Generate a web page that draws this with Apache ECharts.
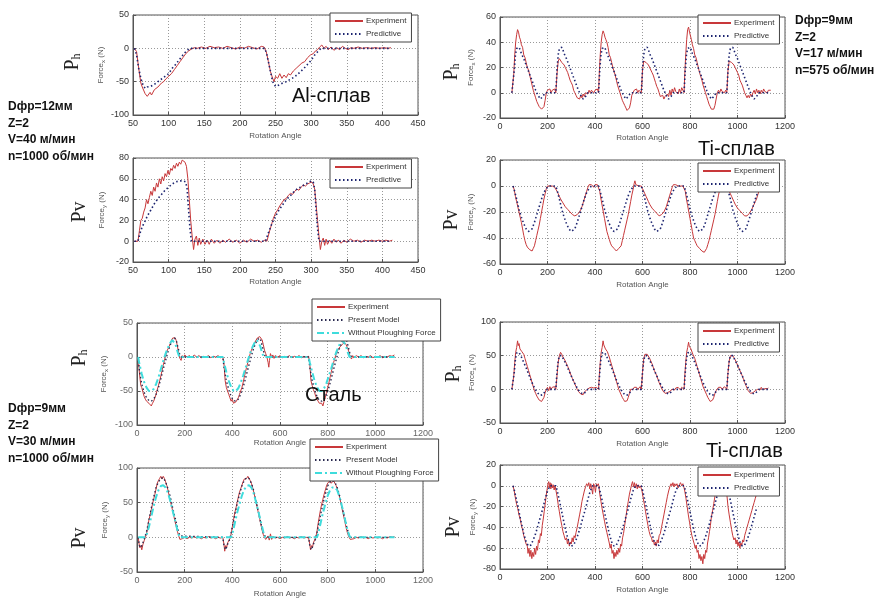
<!DOCTYPE html>
<html><head><meta charset="utf-8">
<script src="https://cdn.jsdelivr.net/npm/echarts@6/dist/echarts.min.js"></script>
<style>html,body{margin:0;padding:0;background:#fff}#c{width:876px;height:601px}</style>
</head><body><div id="c"></div>
<script>
// ---------- DATA ----------
const xTicksAl = [50, 450, 50];
const xTicksBig = [0, 1200, 200];
const yTicks = [[-100,50,50],[-20,80,20],[-20,60,20],[-60,20,20],[-100,50,50],[-50,100,50],[-50,100,50],[-80,20,20]];
const seriesNames = ['Experiment','Predictive','Present Model','Without Ploughing Force'];
const xName = 'Rotation Angle';

const alPhExp = [[52,0],[55,-5],[58,-30],[61,-52],[63,-58],[65,-55],[67,-68],[70,-72],[72,-70],[74,-66],[76,-70],[78,-68],[80,-62],[82,-64],[85,-58],[87,-60],[90,-52],[93,-50],[96,-46],[100,-42],[104,-38],[108,-32],[112,-26],[116,-20],[120,-14],[124,-8],[128,-4],[132,-1],[136,1],[140,0],[146,2],[152,0],[158,3],[164,1],[170,2],[176,0],[182,3],[188,1],[194,-1],[200,2],[206,0],[212,3],[218,1],[224,-1],[230,3],[234,2],[237,-5],[240,-20],[243,-35],[246,-45],[248,-50],[250,-42],[253,-45],[256,-38],[259,-45],[262,-40],[265,-44],[268,-38],[271,-40],[275,-34],[279,-30],[283,-26],[287,-22],[291,-20],[295,-14],[299,-10],[303,-8],[306,-4],[309,-2],[312,2],[315,5],[318,0],[321,3],[324,-2],[328,2],[332,-3],[336,1],[340,-2],[344,3],[348,0],[352,-2],[356,1],[360,0],[366,2],[372,0],[378,1],[384,0],[390,1],[396,0],[402,1],[408,0],[412,1]];
const alPhPred = [[52,0],[55,-10],[58,-30],[61,-45],[64,-55],[67,-60],[70,-58],[75,-57],[80,-54],[85,-50],[90,-46],[95,-42],[100,-38],[105,-30],[110,-24],[115,-17],[120,-10],[125,-4],[130,0],[235,0],[238,-10],[242,-30],[246,-50],[250,-57],[255,-55],[260,-52],[265,-50],[270,-47],[275,-44],[280,-40],[285,-35],[290,-30],[295,-24],[300,-18],[305,-10],[310,-4],[314,0],[410,0]];

const alPvExp = [[52,0],[57,0],[59,10],[61,20],[63,22],[65,28],[67,32],[69,40],[71,36],[73,42],[75,48],[77,44],[79,52],[81,48],[83,56],[85,52],[87,60],[89,55],[91,62],[93,58],[95,65],[97,62],[99,68],[101,64],[103,70],[105,68],[107,73],[109,70],[111,75],[113,72],[115,76],[117,74],[119,78],[121,77],[123,76],[125,72],[127,60],[129,40],[131,20],[133,5],[135,-8],[137,2],[139,5],[141,-4],[143,3],[145,-3],[148,2],[151,-3],[154,1],[157,-3],[160,2],[164,-2],[168,1],[172,-2],[176,1],[180,-1],[185,2],[190,-1],[195,1],[200,-2],[205,1],[210,-1],[215,2],[220,0],[225,1],[230,-1],[235,1],[238,0],[241,8],[244,15],[247,22],[250,27],[253,30],[256,34],[259,37],[262,40],[265,41],[268,44],[271,46],[274,45],[277,48],[280,50],[283,49],[286,52],[289,54],[292,53],[295,55],[298,56],[301,57],[303,55],[305,50],[307,35],[309,20],[311,5],[313,-8],[315,0],[317,3],[319,-4],[321,2],[323,-3],[326,1],[329,-2],[332,2],[335,-1],[338,1],[342,-2],[346,1],[350,-1],[355,2],[360,0],[365,1],[370,-1],[375,1],[380,0],[385,1],[390,0],[395,1],[400,0],[405,1],[410,0],[414,1]];
const alPvPred = [[52,0],[57,0],[60,8],[63,14],[66,18],[70,24],[75,30],[80,36],[85,41],[90,45],[95,49],[100,52],[105,55],[110,57],[115,58],[120,58],[124,57],[126,50],[128,30],[130,12],[132,0],[236,0],[240,8],[245,17],[250,24],[255,30],[260,35],[265,40],[270,43],[275,47],[280,50],[285,52],[290,54],[295,56],[300,58],[303,57],[305,50],[307,30],[309,12],[311,0],[410,0]];

const tiPh1Exp = [[50,0],[55,0],[58,15],[62,30],[66,40],[70,46],[74,50],[78,48],[82,44],[86,42],[90,38],[95,36],[100,30],[105,28],[110,24],[115,20],[120,18],[125,14],[130,10],[135,6],[140,2],[145,-1],[150,-4],[155,-7],[160,-9],[165,-11],[170,-12],[175,-13],[180,-13],[185,-11],[190,-6],[195,0],[200,2],[205,1],[210,3],[215,0],[220,2],[225,1],[230,3],
[235,0],[240,15],[245,25],[250,27],[255,26],[260,24],[265,25],[270,22],[275,20],[280,18],[285,16],[290,13],[295,10],[300,8],[305,6],[310,2],[315,0],[320,-2],[325,-4],[330,-3],[335,-5],[340,-2],[345,-4],[350,-1],[355,-3],[360,0],[365,1],[370,-1],[375,2],[380,0],[385,2],[390,1],[395,0],[400,2],[405,1],[410,3],
[415,0],[418,15],[422,30],[426,40],[430,46],[434,49],[438,47],[442,44],[446,42],[450,40],[455,36],[460,30],[465,28],[470,24],[475,20],[480,17],[485,14],[490,10],[495,6],[500,3],[505,0],[510,-3],[515,-6],[520,-8],[525,-10],[530,-12],[535,-14],[540,-14],[545,-12],[550,-8],[555,-2],[560,0],[565,2],[570,1],[575,3],[580,0],[585,2],[590,1],
[595,0],[600,18],[605,25],[610,26],[615,24],[620,25],[625,22],[630,21],[635,18],[640,16],[645,14],[650,11],[655,8],[660,5],[665,3],[670,0],[675,-3],[680,-4],[685,-2],[690,-5],[695,-3],[700,-4],[705,-1],[710,-3],[715,2],[720,-2],[725,3],[730,0],[735,4],[740,1],[745,2],[750,-1],[755,3],[760,0],[765,4],[770,2],
[775,0],[778,15],[782,30],[786,42],[790,50],[794,52],[798,48],[802,45],[806,42],[810,38],[815,35],[820,30],[825,28],[830,24],[835,20],[840,16],[845,13],[850,10],[855,6],[860,3],[865,0],[870,-3],[875,-6],[880,-9],[885,-11],[890,-13],[895,-14],[900,-13],[905,-10],[910,-5],[915,0],[920,2],[925,0],[930,3],[935,1],[940,2],[945,0],[950,2],
[955,0],[960,18],[965,25],[970,25],[975,24],[980,25],[985,22],[990,20],[995,18],[1000,16],[1005,14],[1010,10],[1015,8],[1020,6],[1025,3],[1030,0],[1035,-2],[1040,-4],[1045,-2],[1050,-4],[1055,-1],[1060,-3],[1065,0],[1070,2],[1075,-1],[1080,3],[1085,0],[1090,2],[1095,-1],[1100,2],[1105,0],[1110,3],[1115,1],[1120,2],[1125,0],[1130,2],[1135,1],[1140,2]];
const tiPh1Pred = [[50,0],[55,0],[60,18],[65,30],[70,35],[75,36],[80,36],[85,34],[90,31],[100,27],[110,22],[120,17],[130,12],[140,7],[150,2],[160,-2],[170,-5],[175,-5],[180,-3],[190,0],[235,0],[240,18],[245,30],[250,35],[255,36],[260,36],[265,34],[270,31],[280,27],[290,22],[300,17],[310,12],[320,7],[330,2],[340,-2],[350,-5],[355,-5],[360,-3],[370,0],[415,0],[420,18],[425,30],[430,35],[435,36],[440,36],[445,34],[450,31],[460,27],[470,22],[480,17],[490,12],[500,7],[510,2],[520,-2],[530,-5],[535,-5],[540,-3],[550,0],[595,0],[600,18],[605,30],[610,35],[615,36],[620,36],[625,34],[630,31],[640,27],[650,22],[660,17],[670,12],[680,7],[690,2],[700,-2],[710,-5],[715,-5],[720,-3],[730,0],[775,0],[780,18],[785,30],[790,35],[795,36],[800,36],[805,34],[810,31],[820,27],[830,22],[840,17],[850,12],[860,7],[870,2],[880,-2],[890,-5],[895,-5],[900,-3],[910,0],[955,0],[960,18],[965,30],[970,35],[975,36],[980,36],[985,34],[990,31],[1000,27],[1010,22],[1020,17],[1030,12],[1040,7],[1050,2],[1060,-2],[1070,-5],[1075,-5],[1080,-3],[1090,0],[1140,0]];

const tiPv1Exp = [[55,0],[60,-3],[65,-8],[70,-12],[75,-16],[80,-20],[85,-24],[90,-28],[95,-33],[100,-38],[105,-42],[110,-45],[115,-47],[120,-48],[125,-49],[130,-50],[135,-50],[140,-48],[145,-46],[150,-42],[155,-38],[160,-34],[165,-30],[170,-25],[175,-20],[180,-15],[185,-10],[190,-6],[195,-2],[200,0],[205,1],[210,0],[215,1],[220,0],[225,0],[230,-1],
[235,-2],[240,-4],[245,-6],[250,-8],[255,-10],[260,-11],[265,-13],[270,-14],[275,-16],[280,-17],[285,-18],[290,-19],[295,-20],[300,-21],[305,-22],[310,-23],[315,-23],[320,-23],[325,-22],[330,-22],[335,-20],[340,-18],[345,-16],[350,-13],[355,-10],[360,-7],[365,-4],[370,-1],[375,1],[380,0],[385,1],[390,0],[395,-1],[400,1],[405,0],[410,1],[415,0],
[420,-4],[425,-10],[430,-15],[435,-20],[440,-25],[445,-30],[450,-35],[455,-38],[460,-41],[465,-44],[470,-46],[475,-47],[480,-48],[485,-49],[490,-50],[495,-50],[500,-48],[505,-49],[510,-46],[515,-42],[520,-38],[525,-34],[530,-30],[535,-26],[540,-22],[545,-17],[550,-12],[555,-7],[560,-3],[565,2],[568,4],[572,1],[576,0],[580,1],[585,0],[590,1],[595,0],
[600,-2],[605,-4],[610,-6],[615,-8],[620,-10],[625,-12],[630,-14],[635,-15],[640,-17],[645,-18],[650,-19],[655,-20],[660,-21],[665,-22],[670,-23],[675,-22],[680,-22],[685,-21],[690,-20],[695,-18],[700,-16],[705,-13],[710,-10],[715,-7],[720,-4],[725,-1],[730,1],[735,0],[740,1],[745,2],[750,0],[755,1],[760,0],[765,1],[770,0],[775,0],
[780,-4],[785,-10],[790,-15],[795,-20],[800,-25],[805,-30],[810,-35],[815,-40],[820,-42],[825,-44],[830,-46],[835,-47],[840,-48],[845,-49],[850,-50],[855,-50],[860,-51],[865,-50],[870,-48],[875,-45],[880,-42],[885,-38],[890,-34],[895,-30],[900,-26],[905,-22],[910,-17],[915,-12],[920,-7],[925,-3],[930,0],[935,1],[940,0],[945,1],[950,0],[955,0],
[960,-2],[965,-4],[970,-6],[975,-8],[980,-10],[985,-12],[990,-14],[995,-15],[1000,-17],[1005,-18],[1010,-19],[1015,-20],[1020,-21],[1025,-22],[1030,-23],[1035,-23],[1040,-23],[1045,-22],[1050,-21],[1055,-20],[1060,-18],[1065,-16],[1070,-14],[1075,-12],[1080,-10],[1085,-7],[1090,-4],[1095,-2],[1100,0]];
const tiPv1Pred = [[55,0],[60,-3],[70,-10],[80,-18],[90,-24],[100,-29],[110,-33],[120,-35],[128,-35],[135,-33],[145,-28],[155,-22],[165,-16],[175,-10],[185,-5],[195,-2],[205,0],[235,0],[240,-3],[250,-10],[260,-18],[270,-24],[280,-29],[290,-33],[300,-35],[308,-35],[315,-33],[325,-28],[335,-22],[345,-16],[355,-10],[365,-5],[375,-2],[385,0],[415,0],[420,-3],[430,-10],[440,-18],[450,-24],[460,-29],[470,-33],[480,-35],[488,-35],[495,-33],[505,-28],[515,-22],[525,-16],[535,-10],[545,-5],[555,-2],[565,0],[595,0],[600,-3],[610,-10],[620,-18],[630,-24],[640,-29],[650,-33],[660,-35],[668,-35],[675,-33],[685,-28],[695,-22],[705,-16],[715,-10],[725,-5],[735,-2],[745,0],[775,0],[780,-3],[790,-10],[800,-18],[810,-24],[820,-29],[830,-33],[840,-35],[848,-35],[855,-33],[865,-28],[875,-22],[885,-16],[895,-10],[905,-5],[915,-2],[925,0],[955,0],[960,-3],[970,-10],[980,-18],[990,-24],[1000,-29],[1010,-33],[1020,-35],[1028,-35],[1035,-33],[1045,-28],[1055,-22],[1065,-16],[1075,-10],[1085,-5],[1095,-2],[1105,0]];

const stPhExp = [[5,0],[8,-15],[12,-30],[16,-42],[20,-45],[25,-52],[30,-58],[35,-62],[40,-65],[45,-63],[50,-68],[55,-70],[60,-72],[65,-68],[70,-65],[75,-60],[80,-55],[85,-48],[90,-42],[95,-35],[100,-28],[105,-20],[110,-12],[115,-5],[120,2],[125,8],[130,12],[135,16],[140,20],[145,25],[150,28],[155,30],[160,28],[165,24],[170,15],[175,5],[180,-2],[185,-5],[190,2],[195,-1],[200,3],[210,0],[220,2],[230,-1],[240,3],[250,0],[260,2],[270,-1],[280,1],[290,0],[300,2],[310,-1],[320,1],[330,0],[340,2],[350,-1],[360,0],
[365,-10],[370,-35],[375,-45],[380,-50],[385,-55],[390,-60],[395,-65],[400,-62],[405,-68],[410,-70],[415,-66],[420,-64],[425,-60],[430,-55],[435,-50],[440,-45],[445,-38],[450,-30],[455,-22],[460,-15],[465,-8],[470,-2],[475,5],[480,10],[485,14],[490,18],[495,22],[500,25],[505,28],[510,30],[515,30],[520,28],[525,25],[530,18],[535,10],[540,5],[545,0],[550,-8],[553,-15],[556,-5],[560,5],[565,0],[570,3],[575,-2],[580,2],[590,0],[600,2],[610,-1],[620,1],[630,0],[640,2],[650,-1],[660,1],[670,0],[680,2],[690,-1],[700,1],[710,0],[720,1],
[725,-10],[730,-35],[735,-42],[740,-48],[745,-52],[750,-58],[755,-62],[760,-65],[765,-68],[770,-70],[775,-68],[780,-72],[785,-65],[790,-60],[795,-52],[800,-45],[805,-38],[810,-30],[815,-22],[820,-15],[825,-8],[830,-2],[835,4],[840,8],[845,12],[850,14],[855,16],[860,18],[865,20],[870,22],[875,20],[880,18],[885,12],[890,6],[895,0],[900,-3],[905,2],[910,-1],[920,2],[930,0],[940,2],[950,-1],[960,1],[970,0],[980,2],[990,-1],[1000,1],[1010,0],[1020,2],[1030,-1],[1040,1],[1050,0],[1060,2],[1070,1],[1080,3]];
const stPhModel = [[5,0],[10,-20],[20,-40],[30,-52],[40,-60],[50,-64],[60,-65],[70,-62],[80,-55],[90,-45],[100,-32],[110,-18],[120,-5],[130,8],[140,18],[150,25],[158,28],[165,24],[172,14],[180,3],[185,0],[360,0],[365,-15],[375,-35],[385,-48],[395,-58],[405,-64],[415,-65],[425,-62],[435,-55],[445,-45],[455,-32],[465,-18],[475,-5],[485,8],[495,18],[505,25],[513,28],[520,24],[527,14],[535,3],[540,0],[720,0],[725,-15],[735,-35],[745,-48],[755,-58],[765,-64],[775,-65],[785,-62],[795,-55],[805,-45],[815,-32],[825,-18],[835,-5],[845,8],[855,18],[865,25],[873,28],[880,24],[887,14],[895,3],[900,0],[1080,0]];
const stPhNoPl = [[5,0],[10,-10],[20,-25],[30,-37],[40,-45],[50,-50],[60,-50],[70,-47],[80,-40],[90,-30],[100,-18],[110,-6],[120,5],[130,14],[140,21],[148,25],[155,24],[162,18],[170,8],[178,0],[360,0],[365,-8],[375,-22],[385,-35],[395,-44],[405,-50],[415,-50],[425,-46],[435,-38],[445,-28],[455,-17],[465,-5],[475,6],[485,15],[495,22],[503,25],[510,23],[517,16],[525,6],[532,0],[720,0],[725,-8],[735,-22],[745,-35],[755,-44],[765,-50],[775,-50],[785,-46],[795,-38],[805,-28],[815,-17],[825,-5],[835,6],[845,15],[855,22],[863,25],[870,23],[877,16],[885,6],[892,0],[1080,0]];

const stPvExp = [[5,0],[8,-8],[12,-15],[16,-12],[20,-18],[25,-10],[30,-5],[35,0],[40,5],[45,15],[50,25],[55,32],[60,40],[65,48],[70,55],[75,62],[80,70],[85,78],[90,82],[95,85],[100,88],[105,84],[110,88],[115,85],[120,80],[125,75],[130,68],[135,60],[140,52],[145,45],[150,38],[155,30],[160,22],[165,15],[170,8],[175,2],[180,-3],[185,-5],[190,-2],[195,-4],[200,0],[210,-2],[220,0],[230,-1],[240,1],[250,-1],[260,0],[270,-2],[280,0],[290,-1],[300,1],[310,-1],[320,0],[330,-2],[340,0],[350,-1],[360,0],
[365,-10],[368,-20],[372,-12],[376,-15],[380,-8],[385,-5],[390,-2],[395,5],[400,15],[405,25],[410,35],[415,42],[420,50],[425,58],[430,65],[435,70],[440,75],[445,80],[450,84],[455,86],[460,85],[465,88],[470,86],[475,82],[480,78],[485,72],[490,65],[495,58],[500,50],[505,42],[510,34],[515,26],[520,18],[525,10],[530,4],[535,0],[540,-3],[545,-5],[550,2],[555,-4],[560,5],[565,-3],[570,1],[580,-1],[590,0],[600,-2],[610,0],[620,-1],[630,1],[640,-1],[650,0],[660,-2],[670,0],[680,-1],[690,1],[700,-1],[710,0],[720,-1],
[725,-10],[728,-18],[732,-12],[736,-15],[740,-8],[745,-4],[750,0],[755,8],[760,20],[765,30],[770,40],[775,48],[780,55],[785,62],[790,68],[795,74],[800,78],[805,80],[810,82],[815,78],[820,80],[825,82],[830,78],[835,75],[840,70],[845,64],[850,58],[855,50],[860,42],[865,34],[870,26],[875,18],[880,10],[885,4],[890,0],[895,-3],[900,-1],[910,-2],[920,0],[930,-1],[940,1],[950,-1],[960,0],[970,-2],[980,0],[990,-1],[1000,0],[1010,-1],[1020,0],[1030,-2],[1040,0],[1050,-1],[1060,1],[1070,0],[1080,1]];
const stPvModel = [[5,0],[10,-12],[15,-15],[20,-12],[30,-3],[40,8],[50,25],[60,42],[70,58],[80,72],[90,80],[100,85],[110,86],[120,80],[130,70],[140,58],[150,42],[160,28],[170,14],[180,2],[185,0],[360,0],[365,-12],[372,-18],[380,-10],[390,-2],[400,15],[410,32],[420,48],[430,62],[440,74],[450,82],[460,86],[470,85],[480,78],[490,67],[500,52],[510,36],[520,20],[530,6],[540,0],[720,0],[725,-12],[732,-18],[740,-10],[750,-2],[760,15],[770,32],[780,48],[790,62],[800,74],[810,80],[820,82],[830,80],[840,72],[850,60],[860,45],[870,30],[880,15],[890,3],[895,0],[1080,0]];
const stPvNoPl = [[5,0],[35,0],[40,3],[50,15],[60,30],[70,45],[80,58],[90,68],[100,74],[110,75],[120,72],[130,64],[140,52],[150,38],[160,24],[170,10],[178,0],[395,0],[400,5],[410,20],[420,35],[430,48],[440,60],[450,69],[460,74],[470,75],[480,72],[490,63],[500,50],[510,36],[520,22],[530,8],[538,0],[755,0],[760,5],[770,20],[780,35],[790,48],[800,60],[810,68],[820,72],[830,72],[840,68],[850,58],[860,45],[870,30],[880,15],[890,3],[895,0],[1080,0]];

const tiPh2Exp = [[50,0],[55,2],[58,20],[62,40],[66,55],[70,62],[74,72],[77,65],[80,68],[84,60],[88,62],[92,56],[96,55],[100,52],[105,46],[110,40],[115,34],[120,28],[125,22],[130,16],[135,10],[140,4],[145,-2],[150,-6],[155,-10],[160,-13],[165,-16],[170,-18],[175,-18],[180,-17],[185,-12],[190,-5],[195,0],[200,3],[205,-2],[210,4],[215,0],[220,3],[225,1],[230,4],
[235,0],[240,20],[245,40],[250,50],[255,55],[260,52],[265,48],[270,46],[275,42],[280,38],[285,34],[290,30],[295,25],[300,20],[305,16],[310,12],[315,8],[320,4],[325,0],[330,-3],[335,-5],[340,-7],[345,-6],[350,-8],[355,-4],[360,-5],[365,-1],[370,0],[375,2],[380,0],[385,3],[390,1],[395,2],[400,0],[405,3],[410,2],
[415,0],[418,20],[422,40],[426,55],[430,62],[434,72],[437,66],[440,68],[444,60],[448,62],[452,56],[456,52],[460,48],[465,42],[470,36],[475,30],[480,24],[485,18],[490,12],[495,6],[500,0],[505,-4],[510,-8],[515,-12],[520,-15],[525,-18],[530,-18],[535,-17],[540,-12],[545,-6],[550,0],[555,2],[560,0],[565,3],[570,1],[575,3],[580,0],[585,2],[590,4],
[595,0],[600,25],[605,45],[610,52],[615,53],[620,52],[625,50],[630,46],[635,42],[640,38],[645,33],[650,28],[655,24],[660,20],[665,15],[670,10],[675,6],[680,2],[685,-2],[690,-4],[695,-6],[700,-7],[705,-5],[710,-7],[715,-3],[720,-4],[725,0],[730,2],[735,-1],[740,2],[745,0],[750,3],[755,1],[760,-1],[765,3],[770,1],
[775,0],[778,20],[782,40],[786,55],[790,62],[794,70],[797,64],[800,66],[804,60],[808,58],[812,52],[816,50],[820,46],[825,40],[830,34],[835,28],[840,22],[845,16],[850,10],[855,4],[860,0],[865,-4],[870,-8],[875,-12],[880,-15],[885,-18],[890,-18],[895,-16],[900,-12],[905,-6],[910,-2],[915,0],[920,3],[925,1],[930,3],[935,0],[940,2],[945,4],[950,2],
[955,0],[960,25],[965,42],[970,50],[975,52],[980,50],[985,48],[990,44],[995,40],[1000,36],[1005,32],[1010,28],[1015,24],[1020,20],[1025,15],[1030,10],[1035,6],[1040,2],[1045,-2],[1050,-4],[1055,-6],[1060,-7],[1065,-5],[1070,-6],[1075,-2],[1080,-3],[1085,0],[1090,2],[1095,-1],[1100,3],[1105,0],[1110,2],[1115,1],[1120,3],[1125,1],[1130,2]];
const tiPh2Pred = [[50,0],[55,0],[60,25],[65,45],[70,54],[75,56],[80,55],[90,48],[100,40],[110,32],[120,23],[130,14],[140,6],[150,-1],[160,-6],[170,-9],[180,-8],[190,-3],[200,0],[235,0],[240,25],[245,42],[250,50],[255,52],[260,50],[270,43],[280,36],[290,28],[300,20],[310,12],[320,5],[330,-1],[340,-5],[350,-7],[360,-4],[370,0],[415,0],[420,25],[425,45],[430,54],[435,56],[440,55],[450,48],[460,40],[470,32],[480,23],[490,14],[500,6],[510,-1],[520,-6],[530,-9],[540,-8],[550,-3],[560,0],[595,0],[600,25],[605,42],[610,50],[615,52],[620,50],[630,43],[640,36],[650,28],[660,20],[670,12],[680,5],[690,-1],[700,-5],[710,-7],[720,-4],[730,0],[775,0],[780,25],[785,45],[790,54],[795,56],[800,55],[810,48],[820,40],[830,32],[840,23],[850,14],[860,6],[870,-1],[880,-6],[890,-9],[900,-8],[910,-3],[920,0],[955,0],[960,25],[965,42],[970,50],[975,52],[980,50],[990,43],[1000,36],[1010,28],[1020,20],[1030,12],[1040,5],[1050,-1],[1060,-5],[1070,-7],[1080,-4],[1090,0],[1130,0]];

const tiPv2Exp = [[55,0],[60,-5],[65,-12],[70,-18],[75,-22],[80,-28],[85,-32],[90,-38],[95,-42],[100,-48],[105,-52],[110,-56],[115,-58],[118,-65],[122,-60],[126,-68],[130,-62],[134,-70],[138,-64],[142,-68],[146,-60],[150,-66],[154,-58],[158,-62],[162,-52],[166,-55],[170,-46],[174,-48],[178,-38],[182,-32],[186,-25],[190,-18],[194,-10],[198,-4],[202,2],[205,4],[208,-2],[211,3],[214,-3],[217,2],[220,-2],[224,1],[228,-4],[232,0],
[236,-5],[240,-10],[245,-18],[250,-25],[255,-32],[260,-38],[265,-44],[270,-48],[275,-52],[280,-50],[284,-56],[288,-52],[292,-58],[296,-54],[300,-56],[304,-50],[308,-54],[312,-48],[316,-50],[320,-45],[325,-40],[330,-34],[335,-28],[340,-22],[345,-15],[350,-10],[355,-5],[360,-1],[365,2],[370,0],[374,3],[378,-3],[382,2],[386,-2],[390,-8],[394,2],[398,0],[402,-6],[406,2],[410,0],[414,2],
[416,0],[420,-8],[425,-15],[430,-22],[435,-28],[440,-34],[445,-40],[450,-45],[455,-50],[460,-55],[464,-60],[468,-56],[472,-65],[476,-62],[480,-70],[484,-64],[488,-68],[492,-62],[496,-66],[500,-60],[504,-64],[508,-56],[512,-58],[516,-50],[520,-46],[525,-38],[530,-30],[535,-22],[540,-15],[545,-8],[550,-3],[555,2],[558,4],[562,-1],[566,3],[570,-2],[574,2],[578,-3],[582,1],[586,-2],[590,0],[594,-2],
[598,-5],[603,-12],[608,-18],[613,-25],[618,-32],[623,-38],[628,-44],[633,-48],[638,-50],[642,-54],[646,-52],[650,-57],[654,-54],[658,-58],[662,-52],[666,-55],[670,-48],[675,-46],[680,-40],[685,-34],[690,-28],[695,-22],[700,-16],[705,-10],[710,-5],[715,-1],[720,2],[724,0],[728,3],[732,-1],[736,2],[740,0],[745,2],[750,-2],[755,1],[760,3],[765,0],[770,2],[774,-1],
[778,-5],[783,-12],[788,-20],[793,-28],[798,-35],[803,-42],[808,-48],[813,-52],[818,-56],[822,-60],[826,-57],[830,-64],[834,-62],[838,-70],[842,-66],[846,-72],[850,-68],[854,-75],[858,-66],[862,-70],[866,-62],[870,-64],[874,-55],[878,-50],[882,-44],[886,-38],[890,-30],[895,-24],[900,-17],[905,-10],[910,-5],[915,0],[920,2],[935,0],[950,-4],
[955,-8],[960,-20],[965,-28],[970,-35],[975,-42],[980,-48],[985,-52],[990,-50],[994,-56],[998,-52],[1002,-58],[1006,-54],[1010,-60],[1014,-55],[1018,-57],[1022,-52],[1026,-54],[1030,-48],[1035,-44],[1040,-40],[1045,-36],[1050,-32],[1055,-28],[1060,-24],[1065,-20],[1070,-16],[1075,-12],[1080,-8]];
const tiPv2Pred = [[55,0],[60,-4],[70,-14],[80,-25],[90,-36],[100,-46],[110,-54],[120,-58],[125,-58],[130,-57],[140,-52],[150,-46],[160,-38],[170,-30],[180,-22],[190,-13],[200,-5],[210,0],[235,0],[240,-4],[250,-14],[260,-25],[270,-36],[280,-46],[290,-54],[300,-58],[305,-58],[310,-57],[320,-52],[330,-46],[340,-38],[350,-30],[360,-22],[370,-13],[380,-5],[390,0],[415,0],[420,-4],[430,-14],[440,-25],[450,-36],[460,-46],[470,-54],[480,-58],[485,-58],[490,-57],[500,-52],[510,-46],[520,-38],[530,-30],[540,-22],[550,-13],[560,-5],[570,0],[595,0],[600,-4],[610,-14],[620,-25],[630,-36],[640,-46],[650,-54],[660,-58],[665,-58],[670,-57],[680,-52],[690,-46],[700,-38],[710,-30],[720,-22],[730,-13],[740,-5],[750,0],[775,0],[780,-4],[790,-14],[800,-25],[810,-36],[820,-46],[830,-54],[840,-58],[845,-58],[850,-57],[860,-52],[870,-46],[880,-38],[890,-30],[900,-22],[910,-13],[920,-5],[930,0],[955,0],[960,-4],[970,-14],[980,-25],[990,-36],[1000,-46],[1010,-54],[1020,-58],[1025,-58],[1030,-57],[1040,-52],[1050,-46],[1060,-38],[1070,-30],[1080,-22]];

// ---------- LAYOUT ----------
const boxes = [
  {left:133, top:15, width:285, height:100},
  {left:133, top:158, width:285, height:104},
  {left:500, top:17, width:285, height:101},
  {left:500, top:160, width:285, height:104},
  {left:137, top:323, width:286, height:102},
  {left:137, top:468, width:286, height:104},
  {left:500, top:322, width:285, height:101},
  {left:500, top:465, width:285, height:104}
];
const ySub = ['x','y','x','y','x','y','x','y'];
const yGap = [27, 26, 24, 24, 28, 27, 23, 22];
const xGap = [17, 16, 16, 17, 13, 18, 17, 17];
const plain = v => String(v);

const grid = [], xAxis = [], yAxis = [];
boxes.forEach((b, i) => {
  grid.push(Object.assign({show:true, borderColor:'#555', borderWidth:1, backgroundColor:'#fff'}, b));
  const xt = i < 2 ? xTicksAl : xTicksBig;
  const yt = yTicks[i];
  const lblCol = i === 4 || i === 5 ? '#666' : '#333';
  xAxis.push({type:'value', gridIndex:i, min:xt[0], max:xt[1], interval:xt[2],
    name:xName, nameLocation:'middle', nameGap:xGap[i],
    nameTextStyle:{fontSize:8, color:'#555', fontFamily:'Liberation Sans'},
    axisLine:{show:true, onZero:false, lineStyle:{color:'#555'}},
    axisTick:{show:true, inside:true, length:3, lineStyle:{color:'#555'}},
    axisLabel:{fontSize:9, color:lblCol, margin:4, formatter:plain, fontFamily:'Liberation Sans Narrow, Liberation Sans'},
    splitLine:{show:true, lineStyle:{color:'#999', type:[1,2], width:1}}});
  yAxis.push({type:'value', gridIndex:i, min:yt[0], max:yt[1], interval:yt[2],
    name:'Force{s|' + ySub[i] + '} (N)', nameLocation:'middle', nameGap:yGap[i],
    nameTextStyle:{fontSize:8, color:'#555', fontFamily:'Liberation Sans',
      rich:{s:{fontSize:6, color:'#555', padding:[5,0,0,0]}}},
    axisLine:{show:true, onZero:false, lineStyle:{color:'#555'}},
    axisTick:{show:true, inside:true, length:3, lineStyle:{color:'#555'}},
    axisLabel:{fontSize:9, color:lblCol, margin:4, formatter:plain, fontFamily:'Liberation Sans Narrow, Liberation Sans'},
    splitLine:{show:true, lineStyle:{color:'#999', type:[1,2], width:1}}});
});

const sty = {
  'Experiment': {color:'#c8383a', lineStyle:{width:1, color:'#c8383a'}},
  'Predictive': {color:'#1c2470', lineStyle:{width:1.6, color:'#1c2470', type:[1.5,2.5]}},
  'Present Model': {color:'#2a2a50', lineStyle:{width:1.4, color:'#2a2a50', type:[1.5,2.5]}},
  'Without Ploughing Force': {color:'#3fdcdc', lineStyle:{width:2, color:'#3fdcdc', type:[7,3,2,3]}}
};
function ser(name, gi, data, z) {
  return Object.assign({type:'line', name:name, xAxisIndex:gi, yAxisIndex:gi, data:data,
    symbol:'none', showSymbol:false, animation:false, silent:true, z:z || 2}, sty[name]);
}
const series = [
  ser('Experiment',0,alPhExp), ser('Predictive',0,alPhPred,3),
  ser('Experiment',1,alPvExp), ser('Predictive',1,alPvPred,3),
  ser('Experiment',2,tiPh1Exp), ser('Predictive',2,tiPh1Pred,3),
  ser('Experiment',3,tiPv1Exp), ser('Predictive',3,tiPv1Pred,3),
  ser('Experiment',4,stPhExp), ser('Present Model',4,stPhModel,3), ser('Without Ploughing Force',4,stPhNoPl,4),
  ser('Experiment',5,stPvExp), ser('Present Model',5,stPvModel,3), ser('Without Ploughing Force',5,stPvNoPl,4),
  ser('Experiment',6,tiPh2Exp), ser('Predictive',6,tiPh2Pred,3),
  ser('Experiment',7,tiPv2Exp), ser('Predictive',7,tiPv2Pred,3)
];

function leg(left, top, names) {
  return {left:left, top:top, orient:'vertical', data:names, selectedMode:false,
    backgroundColor:'#fff', borderColor:'#444', borderWidth:1, borderRadius:0,
    padding:[4,5,4,4], itemGap:5, itemWidth:28, itemHeight:8, z:10,
    itemStyle:{opacity:0},
    textStyle:{fontSize:8, color:'#333', fontFamily:'Liberation Sans', padding:[0,0,0,-2]}};
}
const two = [seriesNames[0], seriesNames[1]];
const three = [seriesNames[0], seriesNames[2], seriesNames[3]];
const legend = [
  leg(330,13,two), leg(330,159,two), leg(698,15,two), leg(698,163,two),
  leg(312,299,three), leg(310,439,three), leg(698,323,two), leg(698,467,two)
];

function note(x, y, lines) {
  return lines.map((t, k) => ({type:'text', left:x, top:y + k*16.5, z:20,
    style:{text:t, font:'bold 12px "Liberation Sans", Arial', fill:'#111'}}));
}
function pLab(x, y, sub, small) {
  return {type:'text', x:x, y:y, rotation:Math.PI/2, z:20,
    style:{text:'{p|P}{s|' + sub + '}', align:'center', verticalAlign:'middle',
      rich:{p:{fontSize:20, fontFamily:'Liberation Serif', fill:'#222'},
            s:{fontSize: small ? 12 : 20, fontFamily:'Liberation Serif', fill:'#222', padding: small ? [7,0,0,0] : 0}}}};
}
function big(x, y, t) {
  return {type:'text', left:x, top:y, z:20, style:{text:t, font:'20px "Liberation Sans", Arial', fill:'#111'}};
}
const graphic = [].concat(
  note(8, 101, ['Dфр=12мм','Z=2','V=40 м/мин','n=1000 об/мин']),
  note(795, 15, ['Dфр=9мм','Z=2','V=17 м/мин','n=575 об/мин']),
  note(8, 403, ['Dфр=9мм','Z=2','V=30 м/мин','n=1000 об/мин']),
  [pLab(73,62,'h',true), pLab(80,212,'v',false), pLab(452,72,'h',true), pLab(452,220,'v',false),
   pLab(80,358,'h',true), pLab(80,538,'v',false), pLab(454,374,'h',true), pLab(454,527,'v',false),
   big(292,86,'Al-сплав'), big(698,139,'Ti-сплав'), big(305,385,'Сталь'), big(706,441,'Ti-сплав')]
);

const chart = echarts.init(document.getElementById('c'), null, {renderer:'canvas'});
chart.setOption({animation:false, backgroundColor:'#fff', grid, xAxis, yAxis, series, legend, graphic});
</script></body></html>
